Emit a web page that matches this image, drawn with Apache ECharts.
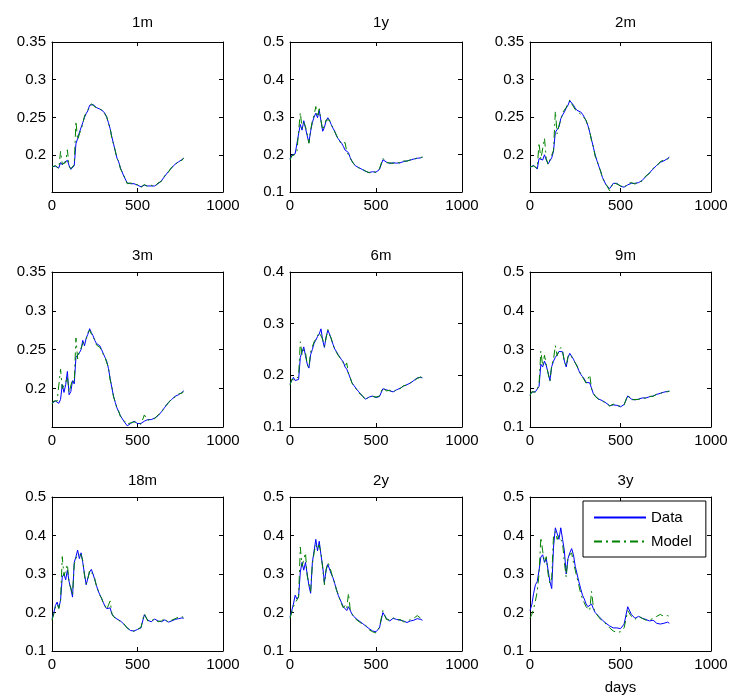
<!DOCTYPE html>
<html><head><meta charset="utf-8">
<script src="https://cdn.jsdelivr.net/npm/echarts@6/dist/echarts.min.js"></script>
<style>html,body{margin:0;padding:0;background:#fff}#c{width:733px;height:699px}</style>
</head><body><div id="c"></div>
<script>
// ---- data ----
const days = [
  0,10,20,30,40,50,60,70,80,90,
  100,110,120,130,140,150,160,170,180,190,
  200,210,220,230,240,250,260,270,280,290,
  300,310,320,330,340,350,360,370,380,390,
  400,420,440,460,480,500,520,540,560,580,
  600,620,640,660,680,700,720,740,760,770];
const titles = ['1m','1y','2m','3m','6m','9m','18m','2y','3y'];
const xTicks = [0, 500, 1000];
const yMins = [0.151, 0.1, 0.1505, 0.1505, 0.1, 0.1, 0.1, 0.1, 0.1];
const yMaxs = [0.35, 0.5, 0.35, 0.35, 0.4, 0.5, 0.5, 0.5, 0.5];
const yTicks1m = [0.2, 0.25, 0.3, 0.35];
const yTicks1y = [0.1, 0.2, 0.3, 0.4, 0.5];
const yTicks2m = [0.2, 0.25, 0.3, 0.35];
const yTicks3m = [0.2, 0.25, 0.3, 0.35];
const yTicks6m = [0.1, 0.2, 0.3, 0.4];
const yTicks9m = [0.1, 0.2, 0.3, 0.4, 0.5];
const yTicks18m = [0.1, 0.2, 0.3, 0.4, 0.5];
const yTicks2y = [0.1, 0.2, 0.3, 0.4, 0.5];
const yTicks3y = [0.1, 0.2, 0.3, 0.4, 0.5];

const data1m = [.185,.186,.185,.185,.183,.190,.187,.190,.188,.193,
  .186,.181,.183,.186,.215,.222,.230,.232,.243,.250,
  .255,.259,.266,.268,.267,.265,.263,.262,.261,.260,
  .258,.255,.250,.243,.235,.224,.215,.205,.196,.191,
  .183,.172,.163,.162,.162,.160,.158,.160,.159,.159,
  .159,.162,.166,.172,.178,.183,.188,.191,.194,.196];
const model1m = [.184,.186,.186,.185,.182,.205,.188,.189,.190,.207,
  .185,.182,.182,.187,.245,.220,.228,.234,.241,.252,
  .254,.260,.264,.268,.266,.264,.262,.262,.260,.260,
  .257,.254,.251,.242,.236,.222,.214,.206,.195,.192,
  .182,.173,.162,.163,.161,.161,.157,.161,.158,.160,
  .158,.163,.165,.173,.177,.184,.187,.192,.193,.196];
const data1y = [.188,.198,.200,.202,.205,.255,.280,.265,.290,.270,
  .250,.232,.262,.285,.300,.310,.298,.318,.290,.262,
  .272,.290,.298,.290,.280,.270,.262,.250,.242,.236,
  .230,.222,.212,.210,.205,.192,.182,.176,.170,.168,
  .165,.160,.155,.152,.154,.153,.160,.186,.180,.176,
  .178,.177,.178,.181,.183,.185,.188,.190,.191,.193];
const model1y = [.185,.196,.201,.200,.207,.262,.312,.270,.285,.275,
  .255,.230,.265,.290,.305,.328,.300,.322,.292,.265,
  .270,.292,.296,.292,.278,.272,.260,.252,.240,.238,
  .228,.225,.232,.208,.207,.190,.183,.175,.172,.166,
  .163,.161,.156,.151,.155,.152,.162,.190,.178,.178,
  .176,.180,.177,.183,.182,.186,.187,.191,.192,.193];
const data2m = [.183,.185,.186,.185,.181,.195,.196,.193,.200,.193,
  .188,.192,.196,.205,.230,.232,.237,.248,.253,.257,
  .262,.266,.272,.270,.266,.262,.259,.258,.257,.254,
  .250,.245,.239,.230,.220,.210,.200,.192,.185,.178,
  .170,.160,.155,.162,.162,.158,.157,.160,.162,.162,
  .163,.166,.171,.176,.181,.186,.190,.192,.195,.197];
const model2m = [.184,.186,.185,.184,.182,.216,.194,.195,.222,.195,
  .187,.193,.195,.206,.258,.228,.239,.246,.256,.255,
  .263,.265,.273,.268,.267,.260,.260,.256,.258,.252,
  .249,.246,.238,.232,.218,.211,.198,.193,.184,.179,
  .169,.161,.152,.163,.161,.159,.156,.162,.163,.161,
  .164,.165,.172,.175,.182,.185,.191,.193,.194,.197];
const data3m = [.181,.183,.184,.183,.181,.186,.205,.195,.205,.222,
  .192,.196,.210,.206,.240,.242,.246,.250,.262,.255,
  .265,.270,.277,.272,.268,.262,.258,.256,.255,.250,
  .245,.240,.235,.226,.213,.201,.190,.182,.175,.170,
  .165,.158,.152,.155,.158,.155,.155,.158,.160,.160,
  .162,.165,.170,.176,.182,.186,.190,.192,.195,.197];
const model3m = [.180,.184,.183,.184,.182,.225,.200,.198,.208,.215,
  .195,.194,.212,.208,.265,.238,.248,.252,.258,.258,
  .263,.272,.275,.273,.266,.263,.256,.257,.253,.251,
  .244,.241,.233,.228,.211,.203,.189,.183,.174,.171,
  .164,.159,.154,.156,.157,.156,.154,.166,.159,.161,
  .161,.166,.169,.177,.181,.187,.189,.193,.194,.196];
const data6m = [.183,.190,.196,.190,.189,.192,.235,.245,.255,.238,
  .222,.214,.240,.250,.262,.268,.275,.280,.290,.268,
  .254,.275,.287,.280,.270,.260,.251,.246,.240,.235,
  .230,.226,.216,.212,.204,.195,.186,.181,.178,.172,
  .168,.160,.154,.158,.160,.157,.159,.174,.172,.170,
  .168,.172,.175,.179,.182,.185,.190,.195,.196,.195];
const model6m = [.181,.192,.195,.191,.190,.198,.265,.240,.250,.245,
  .220,.215,.245,.248,.265,.270,.272,.283,.285,.270,
  .256,.272,.289,.278,.272,.258,.252,.244,.242,.234,
  .232,.224,.218,.224,.202,.196,.185,.182,.176,.173,
  .166,.161,.152,.159,.159,.158,.160,.176,.170,.171,
  .167,.173,.174,.180,.181,.186,.189,.194,.197,.195];
const data9m = [.183,.190,.192,.191,.196,.205,.262,.255,.270,.258,
  .240,.220,.256,.270,.280,.286,.295,.300,.294,.270,
  .255,.280,.290,.285,.275,.265,.258,.245,.236,.230,
  .224,.215,.210,.214,.200,.186,.180,.176,.172,.170,
  .168,.162,.155,.157,.156,.152,.158,.180,.172,.170,
  .172,.175,.175,.178,.180,.184,.187,.190,.192,.192];
const model9m = [.181,.191,.193,.190,.197,.210,.296,.258,.285,.262,
  .238,.218,.260,.275,.310,.284,.298,.305,.296,.268,
  .257,.282,.288,.287,.273,.266,.256,.246,.238,.229,
  .226,.213,.212,.235,.198,.188,.179,.177,.171,.171,
  .166,.163,.154,.159,.155,.154,.157,.183,.170,.171,
  .171,.176,.174,.179,.179,.185,.186,.191,.191,.193];
const data18m = [.183,.198,.218,.227,.212,.232,.292,.300,.285,.310,
  .280,.262,.240,.330,.345,.362,.340,.355,.330,.300,
  .272,.290,.305,.312,.300,.285,.270,.256,.246,.236,
  .226,.216,.210,.205,.212,.196,.190,.186,.183,.180,
  .178,.170,.160,.153,.152,.156,.160,.194,.180,.176,
  .183,.178,.176,.181,.175,.178,.182,.184,.186,.185];
const model18m = [.180,.195,.215,.222,.210,.230,.345,.295,.290,.325,
  .275,.265,.245,.325,.340,.350,.345,.350,.335,.295,
  .275,.288,.310,.310,.298,.288,.268,.258,.244,.238,
  .224,.218,.208,.208,.230,.198,.189,.187,.182,.181,
  .177,.171,.159,.155,.151,.157,.161,.197,.178,.178,
  .184,.176,.178,.185,.174,.180,.184,.188,.190,.186];
const data2y = [.188,.205,.222,.245,.235,.242,.305,.330,.310,.330,
  .300,.270,.250,.330,.360,.390,.360,.385,.350,.320,
  .278,.310,.325,.325,.300,.290,.275,.260,.245,.235,
  .225,.215,.215,.205,.215,.210,.196,.190,.185,.182,
  .178,.172,.165,.158,.152,.150,.160,.200,.185,.178,
  .185,.182,.180,.178,.174,.178,.180,.184,.182,.180];
const model2y = [.185,.200,.215,.225,.230,.240,.370,.320,.315,.355,
  .295,.275,.255,.325,.355,.375,.365,.375,.355,.315,
  .272,.312,.330,.320,.305,.288,.278,.258,.248,.232,
  .228,.212,.218,.210,.250,.208,.198,.188,.187,.180,
  .179,.170,.167,.155,.150,.147,.162,.205,.182,.180,
  .186,.180,.182,.176,.176,.182,.185,.192,.185,.182];
const data3y = [.205,.220,.250,.272,.280,.310,.344,.350,.330,.340,
  .310,.280,.262,.370,.420,.425,.390,.420,.390,.360,
  .300,.340,.355,.366,.350,.320,.300,.280,.262,.245,
  .235,.222,.215,.215,.222,.210,.200,.195,.190,.185,
  .180,.172,.165,.160,.160,.158,.170,.215,.195,.185,
  .190,.185,.182,.178,.180,.172,.170,.172,.175,.172];
const model3y = [.185,.195,.210,.230,.255,.300,.395,.360,.330,.345,
  .300,.275,.290,.400,.410,.390,.400,.390,.380,.330,
  .292,.345,.350,.355,.330,.310,.290,.270,.250,.235,
  .225,.215,.210,.205,.255,.215,.200,.195,.188,.182,
  .178,.170,.160,.152,.148,.150,.160,.205,.190,.182,
  .190,.185,.180,.180,.185,.190,.195,.190,.192,.190];

const dataSets = [data1m, data1y, data2m, data3m, data6m, data9m, data18m, data2y, data3y];
const modelSets = [model1m, model1y, model2m, model3m, model6m, model9m, model18m, model2y, model3y];
const yTickSets = [yTicks1m, yTicks1y, yTicks2m, yTicks3m, yTicks6m, yTicks9m, yTicks18m, yTicks2y, yTicks3y];

// ---- layout ----
const colLeft = [52, 290, 530];
const colWidth = [171, 172, 181];
const rowTop = [42, 272, 497];
const rowHeight = [150, 155, 154];
const titleTop = [10, 243, 468];
const FONT = '"Liberation Sans", Arial, Helvetica, sans-serif';
const FS = 15;

const grids = [], xAxes = [], yAxes = [], series = [], titleList = [];
titles.forEach((t, i) => {
  const r = Math.floor(i / 3), c = i % 3;
  grids.push({left: colLeft[c], top: rowTop[r], width: colWidth[c], height: rowHeight[r], containLabel: false});
  titleList.push({text: t, left: colLeft[c] + colWidth[c] / 2, top: titleTop[r], textAlign: 'center',
    textStyle: {fontSize: FS, fontWeight: 'normal', color: '#000', fontFamily: FONT}});
  const lineS = {show: true, onZero: false, lineStyle: {color: '#000', width: 1}};
  const tick = {show: true, inside: true, length: 4, lineStyle: {color: '#000', width: 1}};
  const xb = {gridIndex: i, type: 'value', position: 'bottom', min: 0, max: 1000, interval: 500,
    axisLine: lineS, axisTick: tick, splitLine: {show: false},
    axisLabel: {color: '#000', fontSize: FS, fontFamily: FONT, margin: 6, formatter: v => String(v)}};
  if (i === 8) { Object.assign(xb, {name: 'days', nameLocation: 'middle', nameGap: 29,
    nameTextStyle: {color: '#000', fontSize: FS, fontFamily: FONT}}); }
  xAxes.push(xb);
  xAxes.push({gridIndex: i, type: 'value', position: 'top', min: 0, max: 1000, interval: 500,
    axisLine: lineS, axisTick: tick, splitLine: {show: false}, axisLabel: {show: false}});
  const yt = yTickSets[i];
  yAxes.push({gridIndex: i, type: 'value', position: 'left', min: yMins[i], max: yMaxs[i],
    axisLine: lineS, axisTick: Object.assign({customValues: yt}, tick), splitLine: {show: false},
    axisLabel: {customValues: yt, color: '#000', fontSize: FS, fontFamily: FONT, margin: 6}});
  yAxes.push({gridIndex: i, type: 'value', position: 'right', min: yMins[i], max: yMaxs[i],
    axisLine: lineS, axisTick: Object.assign({customValues: yt}, tick), splitLine: {show: false},
    axisLabel: {show: false}});
  const last = i === 8;
  series.push({name: last ? 'Data' : 'Data ' + t, type: 'line', xAxisIndex: 2 * i, yAxisIndex: 2 * i,
    data: days.map((d, k) => [d, dataSets[i][k]]), symbol: 'none', color: '#0000ff',
    lineStyle: {color: '#0000ff', width: 1, type: 'solid'}, z: 2});
  series.push({name: last ? 'Model' : 'Model ' + t, type: 'line', xAxisIndex: 2 * i, yAxisIndex: 2 * i,
    data: days.map((d, k) => [d, modelSets[i][k]]), symbol: 'none', color: '#008000',
    lineStyle: {color: '#008000', width: 1, type: [8, 4, 2, 4]}, z: 3});
});

const chart = echarts.init(document.getElementById('c'), null, {renderer: 'canvas'});
chart.setOption({
  animation: false,
  backgroundColor: '#fff',
  textStyle: {fontFamily: FONT},
  title: titleList,
  grid: grids,
  xAxis: xAxes,
  yAxis: yAxes,
  legend: {data: ['Data', 'Model'], orient: 'vertical', left: 583, top: 501,
    padding: [9, 14, 8, 10], itemGap: 9, itemWidth: 52, itemHeight: 14,
    backgroundColor: '#fff', borderColor: '#000', borderWidth: 1, borderRadius: 0,
    selectedMode: false, itemStyle: {opacity: 0},
    textStyle: {fontSize: FS, color: '#000', fontFamily: FONT}},
  series: series
});
</script></body></html>
